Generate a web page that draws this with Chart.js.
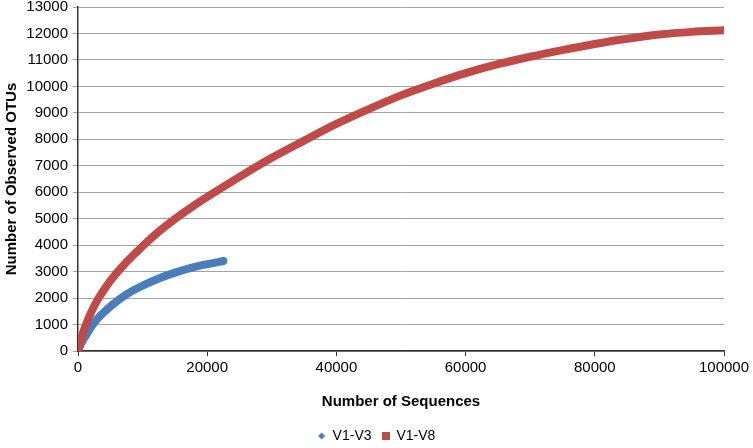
<!DOCTYPE html>
<html>
<head>
<meta charset="utf-8">
<script src="https://cdn.jsdelivr.net/npm/chart.js@4/dist/chart.umd.min.js"></script>
<style>
html,body{margin:0;padding:0;background:#fff;}
#wrap{width:753px;height:448px;position:relative;}
</style>
</head>
<body>
<div id="wrap"><canvas id="c" width="753" height="448"></canvas></div>
<script>
// ---- data ----
const seriesNames = ["V1-V3", "V1-V8"];
const v13X = [0, 500, 1000, 2500, 5000, 7500, 10000, 12500, 15000, 17500, 20000, 22500];
const v13Y = [0, 280, 500, 1070, 1680, 2140, 2470, 2740, 2960, 3140, 3280, 3400];
const v18X = [0, 500, 1000, 2500, 5000, 7500, 10000, 12500, 15000, 17500, 20000, 25000, 30000, 35000, 40000, 45000, 50000, 55000, 60000, 65000, 70000, 75000, 80000, 85000, 90000, 95000, 100000];
const v18Y = [0, 450, 850, 1700, 2650, 3360, 3960, 4510, 4990, 5420, 5820, 6580, 7300, 7950, 8580, 9140, 9660, 10100, 10500, 10840, 11120, 11370, 11600, 11800, 11960, 12060, 12120];
const xTicks = [0, 20000, 40000, 60000, 80000, 100000];
const yTicks = [0,1000,2000,3000,4000,5000,6000,7000,8000,9000,10000,11000,12000,13000];
const xTitle = "Number of Sequences";
const yTitle = "Number of Observed OTUs";

const BLUE = "#4A7EBB";
const RED = "#BE4B48";
const FONT = "'Liberation Sans', Arial, sans-serif";

function pts(xs, ys){ return xs.map((x,i)=>({x:x, y:ys[i]})); }

function diamond(color){
  const c = document.createElement('canvas'); c.width = 8; c.height = 8;
  const g = c.getContext('2d'); g.fillStyle = color;
  g.beginPath(); g.moveTo(4,0.5); g.lineTo(7.5,4); g.lineTo(4,7.5); g.lineTo(0.5,4); g.closePath(); g.fill();
  return c;
}
function square(color){
  const c = document.createElement('canvas'); c.width = 8; c.height = 8;
  const g = c.getContext('2d'); g.fillStyle = color; g.fillRect(0,0,8,8);
  return c;
}

const legendShift = {
  id: 'legendShift',
  afterLayout(chart){
    const l = chart.legend;
    if(!l) return;
    l.left = 0; l.right = chart.width; l.width = chart.width;
    l.top += 5; l.bottom += 5;
  }
};

new Chart(document.getElementById('c'), {
  type: 'line',
  data: {
    datasets: [
      { label: seriesNames[1], data: pts(v18X, v18Y), borderColor: RED, backgroundColor: RED,
        borderWidth: 8, pointRadius: 0, pointHoverRadius: 0, pointStyle: square(RED),
        cubicInterpolationMode: 'monotone', borderCapStyle: 'round', borderJoinStyle: 'round', fill: false },
      { label: seriesNames[0], data: pts(v13X, v13Y), borderColor: BLUE, backgroundColor: BLUE,
        borderWidth: 8, pointRadius: 0, pointHoverRadius: 0, pointStyle: diamond(BLUE),
        cubicInterpolationMode: 'monotone', borderCapStyle: 'round', borderJoinStyle: 'round', fill: false }
    ]
  },
  options: {
    responsive: false,
    animation: false,
    devicePixelRatio: 1,
    layout: { padding: { top: 7, right: 29, left: 0, bottom: 0 } },
    plugins: {
      legend: {
        position: 'bottom',
        reverse: true,
        labels: { usePointStyle: true, boxWidth: 8, boxHeight: 8, padding: 10,
          color: '#000', font: { family: FONT, size: 14 } }
      },
      tooltip: { enabled: false }
    },
    scales: {
      x: {
        type: 'linear', min: 0, max: 100000,
        afterBuildTicks(s){ s.ticks = xTicks.map(v=>({value:v})); },
        afterFit(s){ s.height = 63; s.paddingLeft = 0; s.paddingRight = 0; },
        grid: { drawOnChartArea: false, drawTicks: true, tickLength: 5, tickColor: '#333', tickWidth: 1 },
        border: { display: true, color: '#333', width: 1.5 },
        ticks: { padding: 3, maxRotation: 0, color: '#000', font: { family: FONT, size: 15 }, callback: v => String(v) },
        title: { display: true, text: xTitle, color: '#000', padding: { top: 4, bottom: 3 },
          font: { family: FONT, size: 15, weight: 'bold' } }
      },
      y: {
        type: 'linear', min: 0, max: 13000,
        afterBuildTicks(s){ s.ticks = yTicks.map(v=>({value:v})); },
        afterFit(s){ s.width = 78; s.paddingTop = 0; s.paddingBottom = 0; },
        grid: { color: '#a3a3a3', lineWidth: 1, drawTicks: true, tickLength: 5, tickColor: '#a3a3a3' },
        border: { display: true, color: '#333', width: 1.5 },
        ticks: { padding: 5, color: '#000', font: { family: FONT, size: 15 }, callback: v => String(v) },
        title: { display: true, text: yTitle, color: '#000', padding: { top: 3, bottom: 4 },
          font: { family: FONT, size: 15, weight: 'bold' } }
      }
    }
  },
  plugins: [legendShift]
});
</script>
</body>
</html>
